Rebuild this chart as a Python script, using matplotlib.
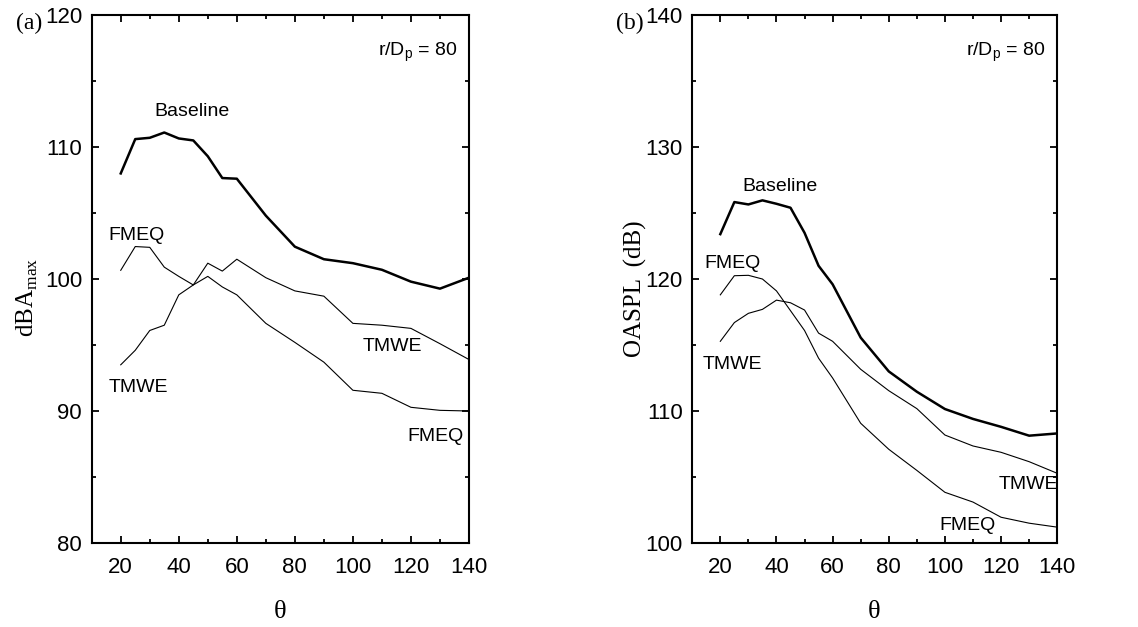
import matplotlib
matplotlib.use("Agg")
import matplotlib.pyplot as plt
from matplotlib.ticker import MultipleLocator

# Data
theta = [20, 25, 30, 35, 40, 45, 50, 55, 60, 70, 80, 90, 100, 110, 120, 130, 140]

dba_baseline = [108.0, 110.6, 110.7, 111.1, 110.65, 110.5, 109.3, 107.65, 107.6,
                104.8, 102.45, 101.5, 101.2, 100.7, 99.8, 99.27, 100.1]
dba_fmeq = [100.66, 102.46, 102.4, 100.9, 100.2, 99.55, 100.2, 99.4, 98.8,
            96.64, 95.2, 93.7, 91.57, 91.34, 90.28, 90.05, 90.0]
dba_tmwe = [93.5, 94.6, 96.1, 96.5, 98.8, 99.55, 101.2, 100.6, 101.5,
            100.1, 99.1, 98.7, 96.64, 96.5, 96.26, 95.1, 93.9]

oaspl_baseline = [123.4, 125.83, 125.65, 125.96, 125.7, 125.4, 123.5, 121.0, 119.6,
                  115.56, 113.0, 111.46, 110.15, 109.4, 108.8, 108.13, 108.3]
oaspl_fmeq = [118.8, 120.25, 120.28, 120.0, 119.1, 117.6, 116.1, 114.0, 112.5,
              109.07, 107.1, 105.5, 103.84, 103.1, 101.95, 101.5, 101.2]
oaspl_tmwe = [115.28, 116.7, 117.4, 117.7, 118.4, 118.2, 117.65, 115.9, 115.28,
              113.16, 111.54, 110.18, 108.18, 107.35, 106.87, 106.16, 105.28]

sans = "Liberation Sans"
serif = "Liberation Serif"
plt.rcParams["font.family"] = sans
plt.rcParams["mathtext.fontset"] = "custom"
plt.rcParams["mathtext.rm"] = sans

fig = plt.figure(figsize=(11.38, 6.27), dpi=100)
ax1 = fig.add_axes([0.0806, 0.134, 0.3315, 0.842])
ax2 = fig.add_axes([0.6083, 0.134, 0.3207, 0.842])


def style_axis(ax, ylo, yhi):
    ax.set_xlim(10, 140)
    ax.set_ylim(ylo, yhi)
    ax.xaxis.set_major_locator(MultipleLocator(20))
    ax.xaxis.set_minor_locator(MultipleLocator(10))
    ax.yaxis.set_major_locator(MultipleLocator(10))
    ax.yaxis.set_minor_locator(MultipleLocator(5))
    ax.set_xticks([20, 40, 60, 80, 100, 120, 140])
    ax.tick_params(which="both", direction="in", top=True, right=True, width=1.3)
    ax.tick_params(which="major", length=5, labelsize=16)
    ax.tick_params(which="minor", length=3)
    ax.tick_params(axis="x", pad=10)
    ax.tick_params(axis="y", pad=7)
    for s in ax.spines.values():
        s.set_linewidth(1.5)


# (a) dBA max
ax1.plot(theta, dba_baseline, color="black", lw=1.8)
ax1.plot(theta, dba_fmeq, color="black", lw=0.8)
ax1.plot(theta, dba_tmwe, color="black", lw=0.8)
style_axis(ax1, 80, 120)
ax1.text(135.9, 117.2, r"r/D$_\mathregular{p}$ = 80", ha="right", va="center", fontsize=14)
ax1.text(44.6, 112.7, "Baseline", ha="center", va="center", fontsize=14)
ax1.text(25.6, 103.3, "FMEQ", ha="center", va="center", fontsize=14)
ax1.text(26.0, 91.8, "TMWE", ha="center", va="center", fontsize=14)
ax1.text(113.6, 94.9, "TMWE", ha="center", va="center", fontsize=14)
ax1.text(128.6, 88.1, "FMEQ", ha="center", va="center", fontsize=14)

# (b) OASPL
ax2.plot(theta, oaspl_baseline, color="black", lw=1.8)
ax2.plot(theta, oaspl_fmeq, color="black", lw=0.8)
ax2.plot(theta, oaspl_tmwe, color="black", lw=0.8)
style_axis(ax2, 100, 140)
ax2.text(136.0, 137.2, r"r/D$_\mathregular{p}$ = 80", ha="right", va="center", fontsize=14)
ax2.text(41.2, 127.0, "Baseline", ha="center", va="center", fontsize=14)
ax2.text(24.3, 121.2, "FMEQ", ha="center", va="center", fontsize=14)
ax2.text(24.3, 113.5, "TMWE", ha="center", va="center", fontsize=14)
ax2.text(129.8, 104.4, "TMWE", ha="center", va="center", fontsize=14)
ax2.text(108.0, 101.3, "FMEQ", ha="center", va="center", fontsize=14)

# axis titles and panel tags
fig.text(0.0237, 0.526, r"dBA$_{\mathregular{max}}$", fontname=serif, fontsize=18,
         rotation=90, ha="center", va="center")
fig.text(0.558, 0.540, "OASPL  (dB)", fontname=serif, fontsize=18,
         rotation=90, ha="center", va="center")
fig.text(280 / 1138, 0.024, "θ", fontname=serif, fontsize=19, ha="center", va="center")
fig.text(874 / 1138, 0.024, "θ", fontname=serif, fontsize=19, ha="center", va="center")
fig.text(0.0255, 0.962, "(a)", fontname=serif, fontsize=17, ha="center", va="center")
fig.text(0.5536, 0.962, "(b)", fontname=serif, fontsize=17, ha="center", va="center")

fig.savefig("out.png", dpi=100)
